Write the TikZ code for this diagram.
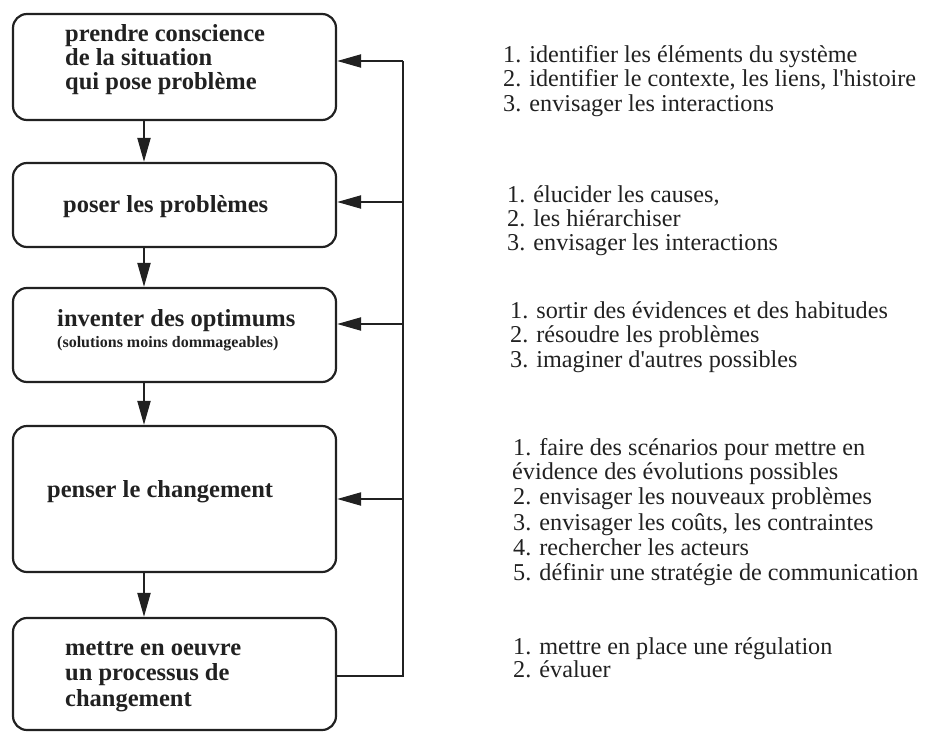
\documentclass[tikz,border=0pt]{standalone}
\usepackage{fontspec}
\setmainfont{Liberation Serif}
\usetikzlibrary{arrows.meta}
\definecolor{ink}{gray}{0.13}
\begin{document}
\begin{tikzpicture}[x=1pt,y=-1pt,
  stage/.style={draw=ink, line width=2.2pt, rounded corners=14pt, inner sep=0pt, minimum width=323pt},
  flow/.style={draw=ink, line width=2pt, -{Triangle[length=24pt,width=13pt]}},
  link/.style={draw=ink, line width=2pt},
  title/.style={anchor=base west, inner sep=0pt, text=ink, font=\fontsize{24.5}{28}\selectfont\bfseries},
  subtitle/.style={anchor=base west, inner sep=0pt, text=ink, font=\fontsize{16}{18}\selectfont\bfseries},
  note/.style={anchor=base west, inner sep=0pt, text=ink, font=\fontsize{24.2}{28}\selectfont},
]
\useasboundingbox (0,0) rectangle (925,733);

% stages of the process
\node[stage, minimum height=106pt] (s1) at (174.5,67) {};
\node[stage, minimum height=84pt]  (s2) at (174.5,205) {};
\node[stage, minimum height=94pt]  (s3) at (174.5,335) {};
\node[stage, minimum height=146pt] (s4) at (174.5,499) {};
\node[stage, minimum height=112pt] (s5) at (174.5,674) {};

% stage titles
\node[title] (t1a) at (65,42) {prendre conscience};
\node[title] (t1b) at (65,66) {de la situation};
\node[title] (t1c) at (65,90) {qui pose problème};
\node[title] (t2)  at (63,212) {poser les problèmes};
\node[title] (t3)  at (57,326) {inventer des optimums};
\node[subtitle] (t3s) at (57,347) {(solutions moins dommageables)};
\node[title] (t4)  at (47,497) {penser le changement};
\node[title] (t5a) at (65,655) {mettre en oeuvre};
\node[title] (t5b) at (65,680) {un processus de};
\node[title] (t5c) at (65,706) {changement};

% downward flow between stages
\draw[flow] (s1.south -| 144,0) -- (s2.north -| 144,0);
\draw[flow] (s2.south -| 144,0) -- (s3.north -| 144,0);
\draw[flow] (s3.south -| 144,0) -- (s4.north -| 144,0);
\draw[flow] (s4.south -| 144,0) -- (s5.north -| 144,0);

% feedback loop on the right
\coordinate (b5) at (403,676);
\coordinate (b1) at (403,61);
\coordinate (b2) at (403,202);
\coordinate (b3) at (403,324);
\coordinate (b4) at (403,499);
\draw[link] (s5.east |- b5) -- (b5) -- (b1);
\draw[flow] (b1) -- (b1 -| s1.east);
\draw[flow] (b2) -- (b2 -| s2.east);
\draw[flow] (b3) -- (b3 -| s3.east);
\draw[flow] (b4) -- (b4 -| s4.east);

% actions for each stage
\node[note] (n1a) at (503,63)  {1. identifier les éléments du système};
\node[note] (n1b) at (503,87)  {2. identifier le contexte, les liens, l\textquotesingle histoire};
\node[note] (n1c) at (503,112) {3. envisager les interactions};

\node[note] (n2a) at (507,202) {1. élucider les causes,};
\node[note] (n2b) at (507,226) {2. les hiérarchiser};
\node[note] (n2c) at (507,250) {3. envisager les interactions};

\node[note] (n3a) at (510,318) {1. sortir des évidences et des habitudes};
\node[note] (n3b) at (510,342) {2. résoudre les problèmes};
\node[note] (n3c) at (510,367) {3. imaginer d\textquotesingle autres possibles};

\node[note] (n4a) at (513,455) {1. faire des scénarios pour mettre en};
\node[note] (n4b) at (512,479) {évidence des évolutions possibles};
\node[note] (n4c) at (513,504) {2. envisager les nouveaux problèmes};
\node[note] (n4d) at (513,530) {3. envisager les coûts, les contraintes};
\node[note] (n4e) at (513,555) {4. rechercher les acteurs};
\node[note] (n4f) at (513,580) {5. définir une stratégie de communication};

\node[note] (n5a) at (513,654) {1. mettre en place une régulation};
\node[note] (n5b) at (513,677) {2. évaluer};
\end{tikzpicture}
\end{document}
